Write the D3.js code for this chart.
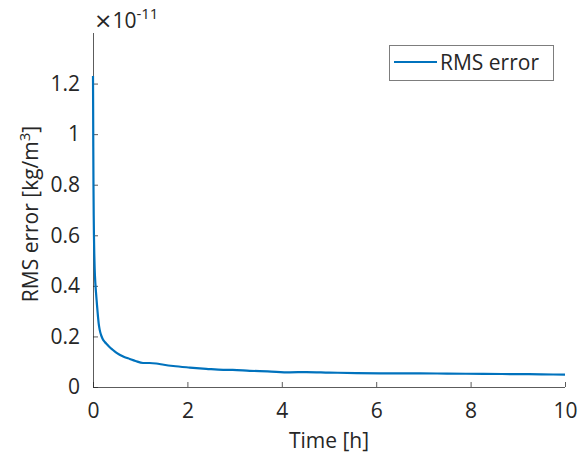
<!DOCTYPE html>
<html><head><meta charset="utf-8">
<script src="https://cdn.jsdelivr.net/npm/d3@7"></script>
<style>
body{margin:0;background:#fff;}
svg text{font-family:"Open Sans",sans-serif;fill:#262626;}
</style></head>
<body><svg id="c" width="588" height="458"></svg>
<script>
// Time in hours
const timeH = [0,0.003,0.006,0.01,0.015,0.02,0.028,0.035,0.05,0.065,0.078,0.1,0.12,0.14,0.17,0.2,0.25,0.29,0.35,0.4,0.5,0.65,0.78,0.9,1.06,1.2,1.34,1.5,1.7,2.05,2.4,2.76,2.96,3.32,3.7,4.17,4.52,5.0,5.58,6.29,6.93,7.5,8.27,9.0,9.5,10];
// RMS error, units of 1e-11 kg/m^3
const rmsError = [1.23,1.1,0.95,0.8,0.68,0.6,0.52,0.47,0.41,0.37,0.34,0.29,0.252,0.228,0.206,0.192,0.178,0.17,0.158,0.15,0.135,0.12,0.111,0.103,0.095,0.095,0.093,0.088,0.083,0.077,0.072,0.068,0.068,0.064,0.062,0.058,0.059,0.057,0.055,0.054,0.054,0.053,0.052,0.051,0.050,0.049];
const xTicks = [0,2,4,6,8,10];
const yTicks = [0,0.2,0.4,0.6,0.8,1,1.2];
const seriesName = "RMS error";

const svg = d3.select("#c");
const L=93,R=565,T=33,B=387;
const FS=21;
const x = d3.scaleLinear().domain([0,10]).range([L,R]);
const y = d3.scaleLinear().domain([0,1.4]).range([B,T]);
const axisColor="#262626";

const gx = svg.append("g").attr("transform",`translate(0,${B})`)
  .call(d3.axisBottom(x).tickValues(xTicks).tickSize(-5).tickPadding(16).tickFormat(d3.format("d")));
const gy = svg.append("g").attr("transform",`translate(${L},0)`)
  .call(d3.axisLeft(y).tickValues(yTicks).tickSize(-5).tickPadding(13).tickFormat(d=>d===0?"0":String(+d.toFixed(1))));
[gx,gy].forEach(g=>{
  g.select(".domain").attr("stroke",axisColor).attr("stroke-width",1).attr("stroke-opacity",0.75);
  g.selectAll(".tick line").attr("stroke",axisColor).attr("stroke-opacity",0.75);
  g.selectAll(".tick text").attr("font-size",FS).attr("fill","#262626").style("font-family","'Open Sans',sans-serif");
});
gx.selectAll(".tick text").attr("dy","0.71em");
gx.select(".domain").attr("d",`M${L},0.5H${R}`);
gy.select(".domain").attr("d",`M0.5,${B}V${T}`);

svg.append("path").datum(timeH.map((t,i)=>[t,rmsError[i]]))
  .attr("fill","none").attr("stroke","#0072BD").attr("stroke-width",2.2)
  .attr("stroke-linejoin","round")
  .attr("d",d3.line().x(d=>x(d[0])).y(d=>y(d[1])).curve(d3.curveMonotoneX));

// exponent label
const ex = svg.append("text").attr("x",94).attr("y",28).attr("font-size",FS);
ex.append("tspan").attr("font-size",22).style("font-family","'DejaVu Sans',sans-serif").text("\u00d7");
ex.append("tspan").text("10");
ex.append("tspan").attr("dy",-9).attr("font-size",15).text("-11");

// axis labels
svg.append("text").attr("x",(L+R)/2).attr("y",448).attr("text-anchor","middle").attr("font-size",FS).text("Time [h]");
const yl = svg.append("text").attr("transform",`translate(38,${(T+B)/2+4}) rotate(-90)`).attr("text-anchor","middle").attr("font-size",FS);
yl.append("tspan").text("RMS error [kg/m");
yl.append("tspan").attr("dy",-8).attr("font-size",15).text("3");
yl.append("tspan").attr("dy",8).text("]");

// legend
const lg = svg.append("g");
lg.append("rect").attr("x",389.5).attr("y",45.5).attr("width",164).attr("height",35)
  .attr("fill","#fff").attr("stroke","#262626").attr("stroke-opacity",0.6);
lg.append("line").attr("x1",394).attr("x2",437).attr("y1",62).attr("y2",62).attr("stroke","#0072BD").attr("stroke-width",2.2);
lg.append("text").attr("x",440).attr("y",63).attr("dy","0.35em").attr("font-size",FS).text(seriesName);
</script></body></html>
